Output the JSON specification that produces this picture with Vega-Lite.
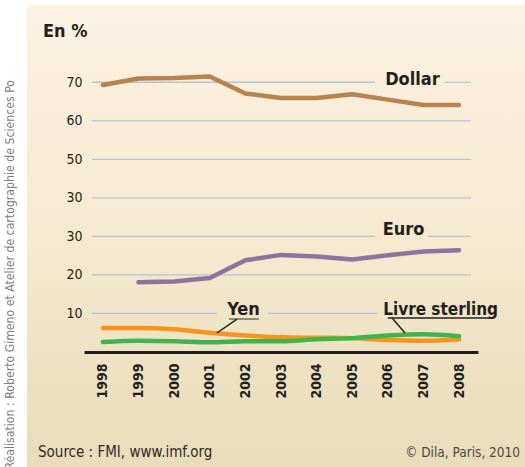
{
  "$schema": "https://vega.github.io/schema/vega-lite/v6.json",
  "autosize": {"type": "none"},
  "width": 394,
  "height": 289,
  "padding": {"left": 84, "top": 63, "right": 47, "bottom": 115},
  "background": "#ffffff",
  "config": {
    "view": {"stroke": null},
    "font": "Liberation Sans Narrow, DejaVu Sans Condensed, Roboto, sans-serif",
    "axis": {"labelOverlap": false, "labelBound": false, "labelSeparation": -40},
    "axisX": {"labelOverlap": false, "labelSeparation": -40}
  },
  "datasets": {
    "series": [
      {"currency": "Dollar", "year": 1998, "share": 69.3},
      {"currency": "Dollar", "year": 1999, "share": 71.0},
      {"currency": "Dollar", "year": 2000, "share": 71.1},
      {"currency": "Dollar", "year": 2001, "share": 71.5},
      {"currency": "Dollar", "year": 2002, "share": 67.1},
      {"currency": "Dollar", "year": 2003, "share": 65.9},
      {"currency": "Dollar", "year": 2004, "share": 65.9},
      {"currency": "Dollar", "year": 2005, "share": 66.9},
      {"currency": "Dollar", "year": 2006, "share": 65.5},
      {"currency": "Dollar", "year": 2007, "share": 64.1},
      {"currency": "Dollar", "year": 2008, "share": 64.1},
      {"currency": "Euro", "year": 1999, "share": 18.1},
      {"currency": "Euro", "year": 2000, "share": 18.3},
      {"currency": "Euro", "year": 2001, "share": 19.2},
      {"currency": "Euro", "year": 2002, "share": 23.8},
      {"currency": "Euro", "year": 2003, "share": 25.2},
      {"currency": "Euro", "year": 2004, "share": 24.8},
      {"currency": "Euro", "year": 2005, "share": 24.0},
      {"currency": "Euro", "year": 2006, "share": 25.1},
      {"currency": "Euro", "year": 2007, "share": 26.1},
      {"currency": "Euro", "year": 2008, "share": 26.4}
    ],
    "smooth": [
      {"currency": "Yen", "year": 1998, "share": 6.2},
      {"currency": "Yen", "year": 1999, "share": 6.2},
      {"currency": "Yen", "year": 2000, "share": 5.9},
      {"currency": "Yen", "year": 2001, "share": 5.0},
      {"currency": "Yen", "year": 2002, "share": 4.3},
      {"currency": "Yen", "year": 2003, "share": 3.8},
      {"currency": "Yen", "year": 2004, "share": 3.7},
      {"currency": "Yen", "year": 2005, "share": 3.6},
      {"currency": "Yen", "year": 2006, "share": 3.1},
      {"currency": "Yen", "year": 2007, "share": 2.9},
      {"currency": "Yen", "year": 2008, "share": 3.3},
      {"currency": "Livre sterling", "year": 1998, "share": 2.6},
      {"currency": "Livre sterling", "year": 1999, "share": 2.9},
      {"currency": "Livre sterling", "year": 2000, "share": 2.8},
      {"currency": "Livre sterling", "year": 2001, "share": 2.5},
      {"currency": "Livre sterling", "year": 2002, "share": 2.8},
      {"currency": "Livre sterling", "year": 2003, "share": 2.8},
      {"currency": "Livre sterling", "year": 2004, "share": 3.3},
      {"currency": "Livre sterling", "year": 2005, "share": 3.6},
      {"currency": "Livre sterling", "year": 2006, "share": 4.3},
      {"currency": "Livre sterling", "year": 2007, "share": 4.6},
      {"currency": "Livre sterling", "year": 2008, "share": 4.1}
    ],
    "grid": [
      {"level": 70, "start": 1997.695, "end": 2005.64},
      {"level": 70, "start": 2007.6, "end": 2008.33},
      {"level": 60, "start": 1997.695, "end": 2008.33},
      {"level": 50, "start": 1997.695, "end": 2008.33},
      {"level": 40, "start": 1997.695, "end": 2008.33},
      {"level": 30, "start": 1997.695, "end": 2005.64},
      {"level": 30, "start": 2007.13, "end": 2008.33},
      {"level": 20, "start": 1997.695, "end": 2008.33},
      {"level": 10, "start": 1997.695, "end": 2001.2},
      {"level": 10, "start": 2002.635, "end": 2005.7}
    ],
    "one": [{}]
  },
  "layer": [
    {
      "data": {"name": "one"},
      "mark": {
        "type": "rect",
        "fill": {
          "gradient": "linear", "x1": 0, "y1": 0, "x2": 0, "y2": 1,
          "stops": [
            {"offset": 0, "color": "#FCF2E2"},
            {"offset": 0.5, "color": "#F5E9D0"},
            {"offset": 1, "color": "#E8DCB9"}
          ]
        }
      },
      "encoding": {
        "x": {"datum": 1995.87, "type": "quantitative"},
        "x2": {"datum": 2009.9},
        "y": {"datum": 90.1, "type": "quantitative"},
        "y2": {"datum": -30}
      }
    },
    {
      "data": {"name": "grid"},
      "mark": {"type": "rule", "color": "#B9C1CF", "strokeWidth": 1.3},
      "encoding": {
        "x": {"field": "start", "type": "quantitative"},
        "x2": {"field": "end"},
        "y": {"field": "level", "type": "quantitative"}
      }
    },
    {
      "data": {"name": "series"},
      "mark": {"type": "line", "strokeWidth": 4.5, "strokeCap": "round", "strokeJoin": "round"},
      "encoding": {
        "x": {
          "field": "year", "type": "quantitative",
          "scale": {"domain": [1997.47, 2008.53], "nice": false, "zero": false},
          "axis": {
            "title": null, "zindex": 1, "values": [1998, 1999, 2000, 2001, 2002, 2003, 2004, 2005, 2006, 2007, 2008],
            "tickCount": 11,
            "format": "d", "labelAngle": 270, "labelPadding": 11, "labelFontSize": 14,
            "labelFontWeight": "bold", "labelColor": "#231F20", "ticks": false, "grid": false,
            "domainColor": "#231F20", "domainWidth": 3, "labelFlush": false, "labelOverlap": false,
            "labelSeparation": -40
          }
        },
        "y": {
          "field": "share", "type": "quantitative",
          "scale": {"domain": [0, 75], "nice": false},
          "axis": {
            "title": null, "zindex": 1, "values": [10, 20, 30, 40, 50, 60, 70],
            "labelExpr": "datum.value == 40 ? '30' : datum.label",
            "labelPadding": 2, "labelFontSize": 14, "labelColor": "#231F20",
            "ticks": false, "domain": false, "grid": false
          }
        },
        "color": {
          "field": "currency", "type": "nominal", "legend": null,
          "scale": {"domain": ["Dollar", "Euro", "Yen", "Livre sterling"], "range": ["#B9834F", "#8D739D", "#F7941E", "#3DB54A"]}
        }
      }
    },
    {
      "data": {"name": "smooth"},
      "mark": {"type": "line", "strokeWidth": 4.5, "strokeCap": "round", "interpolate": "monotone"},
      "encoding": {
        "x": {"field": "year", "type": "quantitative"},
        "y": {"field": "share", "type": "quantitative"},
        "color": {"field": "currency", "type": "nominal", "legend": null}
      }
    },
    {
      "data": {"name": "one"},
      "mark": {"type": "text", "text": "Dollar", "fontSize": 18, "fontWeight": "bold", "color": "#231F20", "align": "center", "baseline": "alphabetic"},
      "encoding": {"x": {"datum": 2006.69, "type": "quantitative"}, "y": {"datum": 69.3, "type": "quantitative"}}
    },
    {
      "data": {"name": "one"},
      "mark": {"type": "text", "text": "Euro", "fontSize": 18, "fontWeight": "bold", "color": "#231F20", "align": "center", "baseline": "alphabetic"},
      "encoding": {"x": {"datum": 2006.44, "type": "quantitative"}, "y": {"datum": 30.4, "type": "quantitative"}}
    },
    {
      "data": {"name": "one"},
      "mark": {"type": "text", "text": "Yen", "fontSize": 18, "fontWeight": "bold", "color": "#231F20", "align": "center", "baseline": "alphabetic"},
      "encoding": {"x": {"datum": 2001.95, "type": "quantitative"}, "y": {"datum": 9.6, "type": "quantitative"}}
    },
    {
      "data": {"name": "one"},
      "mark": {"type": "text", "text": "Livre sterling", "fontSize": 17, "fontWeight": "bold", "color": "#231F20", "align": "center", "baseline": "alphabetic"},
      "encoding": {"x": {"datum": 2007.48, "type": "quantitative"}, "y": {"datum": 9.6, "type": "quantitative"}}
    },
    {
      "data": {"name": "one"},
      "mark": {"type": "rule", "color": "#6D6A66", "strokeWidth": 1.5},
      "encoding": {"x": {"datum": 2001.54, "type": "quantitative"}, "x2": {"datum": 2002.38}, "y": {"datum": 8.56, "type": "quantitative"}}
    },
    {
      "data": {"name": "one"},
      "mark": {"type": "rule", "color": "#231F20", "strokeWidth": 1.5},
      "encoding": {"x": {"datum": 2001.765, "type": "quantitative"}, "x2": {"datum": 2001.2}, "y": {"datum": 8.56, "type": "quantitative"}, "y2": {"datum": 4.93}}
    },
    {
      "data": {"name": "one"},
      "mark": {"type": "rule", "color": "#231F20", "strokeWidth": 1.5},
      "encoding": {"x": {"datum": 2006.0, "type": "quantitative"}, "x2": {"datum": 2008.95}, "y": {"datum": 8.82, "type": "quantitative"}}
    },
    {
      "data": {"name": "one"},
      "mark": {"type": "rule", "color": "#231F20", "strokeWidth": 1.5},
      "encoding": {"x": {"datum": 2006.12, "type": "quantitative"}, "x2": {"datum": 2006.48}, "y": {"datum": 8.82, "type": "quantitative"}, "y2": {"datum": 4.93}}
    },
    {
      "data": {"name": "one"},
      "mark": {"type": "text", "text": "En %", "fontSize": 18, "fontWeight": "bold", "color": "#231F20", "align": "left", "baseline": "alphabetic"},
      "encoding": {"x": {"datum": 1996.319, "type": "quantitative"}, "y": {"datum": 81.75, "type": "quantitative"}}
    },
    {
      "data": {"name": "one"},
      "mark": {"type": "text", "text": "Source : FMI, www.imf.org", "fontSize": 15, "color": "#2E2B28", "align": "left", "baseline": "alphabetic"},
      "encoding": {"x": {"datum": 1996.179, "type": "quantitative"}, "y": {"datum": -27.25, "type": "quantitative"}}
    },
    {
      "data": {"name": "one"},
      "mark": {"type": "text", "text": "© Dila, Paris, 2010", "fontSize": 13.5, "color": "#4A4744", "align": "right", "baseline": "alphabetic"},
      "encoding": {"x": {"datum": 2009.709, "type": "quantitative"}, "y": {"datum": -27.25, "type": "quantitative"}}
    },
    {
      "data": {"name": "one"},
      "mark": {"type": "text", "text": "Réalisation : Roberto Gimeno et Atelier de cartographie de Sciences Po", "fontSize": 12.2, "color": "#808080", "angle": 270, "align": "right", "baseline": "middle"},
      "encoding": {"x": {"datum": 1995.393, "type": "quantitative"}, "y": {"datum": 70.6, "type": "quantitative"}}
    }
  ]
}
